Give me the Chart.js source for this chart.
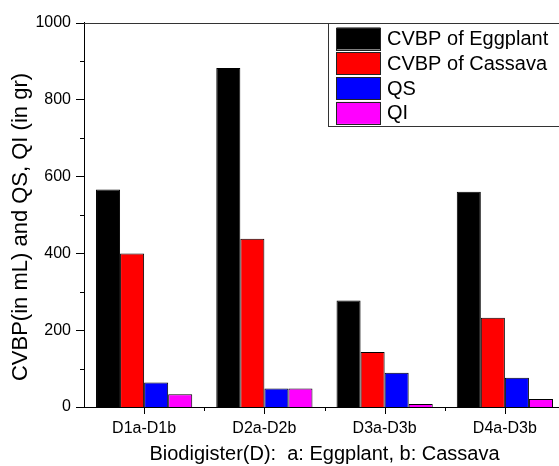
<!DOCTYPE html>
<html>
<head>
<meta charset="utf-8">
<script src="https://cdn.jsdelivr.net/npm/chart.js@4"></script>
<style>
  html, body { margin: 0; padding: 0; background: #fff; overflow: hidden; }
  #wrap { width: 580px; height: 466px; }
</style>
</head>
<body>
<div id="wrap"><canvas id="myChart" width="580" height="466"></canvas></div>
<script>
const categories = ['D1a-D1b', 'D2a-D2b', 'D3a-D3b', 'D4a-D3b'];
const seriesNames = ['CVBP of Eggplant', 'CVBP of Cassava', 'QS', 'QI'];
const eggplant = [566, 882, 277, 560];
const cassava = [399, 438, 143, 232];
const qs = [64, 48, 89, 76];
const qi = [33, 48, 8, 21];
const colors = ['#000000', '#ff0000', '#0000ff', '#ff00ff'];
const yTicks = [0, 200, 400, 600, 800, 1000];

const FONT = "'Liberation Sans', Arial, sans-serif";

// minor/major tick marks, top frame line, y title and boxed legend
const decorations = {
    id: 'decorations',
    afterDraw(chart) {
        const ctx = chart.ctx;
        const a = chart.chartArea;
        const x = chart.scales.x;
        const y = chart.scales.y;
        ctx.save();
        ctx.strokeStyle = '#000';
        ctx.lineWidth = 1;
        ctx.beginPath();
        for (let v = 0; v <= 1000; v += 100) {
            const py = Math.round(y.getPixelForValue(v)) + 0.5;
            const len = yTicks.includes(v) ? 8 : 4;
            ctx.moveTo(a.left - len, py);
            ctx.lineTo(a.left, py);
        }
        const step = x.getPixelForValue(1) - x.getPixelForValue(0);
        categories.forEach((c, i) => {
            const px = Math.round(x.getPixelForValue(i)) + 0.5;
            ctx.moveTo(px, a.bottom);
            ctx.lineTo(px, a.bottom + 7);
            const bx = Math.round(x.getPixelForValue(i) + step / 2) + 0.5;
            ctx.moveTo(bx, a.bottom);
            ctx.lineTo(bx, a.bottom + 4);
        });
        ctx.stroke();

        // top frame
        ctx.strokeStyle = '#333';
        ctx.beginPath();
        ctx.moveTo(a.left, Math.round(a.top) + 0.5);
        ctx.lineTo(a.right, Math.round(a.top) + 0.5);
        ctx.stroke();

        // y title
        ctx.fillStyle = '#000';
        ctx.font = '22px ' + FONT;
        ctx.textAlign = 'center';
        ctx.textBaseline = 'middle';
        ctx.translate(21, 227);
        ctx.rotate(-Math.PI / 2);
        ctx.fillText('CVBP(in mL) and QS, QI (in gr)', 0, 0);
        ctx.restore();

        // legend
        ctx.save();
        const lx = 328, ly = 23.5;
        ctx.strokeStyle = '#333';
        ctx.lineWidth = 1;
        ctx.strokeRect(lx + 0.5, ly, 240, 103);
        ctx.font = '20px ' + FONT;
        ctx.textBaseline = 'middle';
        ctx.textAlign = 'left';
        chart.data.datasets.forEach((ds, i) => {
            const sy = 27.5 + i * 24.8;
            ctx.fillStyle = ds.backgroundColor;
            ctx.fillRect(336.5, sy, 44, 22);
            ctx.strokeStyle = '#222';
            ctx.strokeRect(336.5, Math.round(sy) + 0.5, 44, 22);
            ctx.fillStyle = '#000';
            ctx.fillText(ds.label, 387, sy + 12);
        });
        ctx.restore();
    }
};

const data = {
    labels: categories,
    datasets: [eggplant, cassava, qs, qi].map((vals, i) => ({
        label: seriesNames[i],
        data: vals,
        backgroundColor: colors[i],
        borderColor: '#000',
        borderWidth: 1,
        categoryPercentage: 0.8,
        barPercentage: 1.0
    }))
};

const config = {
    type: 'bar',
    data: data,
    options: {
        responsive: false,
        animation: false,
        layout: {
            padding: { top: 21, right: 15, left: 0, bottom: 0 }
        },
        plugins: {
            legend: { display: false },
            tooltip: { enabled: false }
        },
        scales: {
            x: {
                afterFit: (s) => { s.height = 59; },
                grid: { display: false, drawTicks: false },
                border: { display: true, color: '#000', width: 1 },
                ticks: {
                    color: '#000',
                    padding: 12,
                    font: { family: FONT, size: 16 }
                },
                title: {
                    display: true,
                    text: 'Biodigister(D):  a: Eggplant, b: Cassava',
                    color: '#000',
                    font: { family: FONT, size: 20 },
                    padding: { top: 0, bottom: 0 }
                }
            },
            y: {
                min: 0,
                max: 1000,
                afterFit: (s) => { s.width = 84; },
                grid: { display: false, drawTicks: false },
                border: { display: true, color: '#000', width: 1 },
                ticks: {
                    stepSize: 200,
                    color: '#000',
                    padding: 13,
                    font: { family: FONT, size: 16 },
                    callback: (v) => String(v)
                }
            }
        }
    },
    plugins: [decorations]
};

var myChart = new Chart(document.getElementById('myChart'), config);
</script>
</body>
</html>
